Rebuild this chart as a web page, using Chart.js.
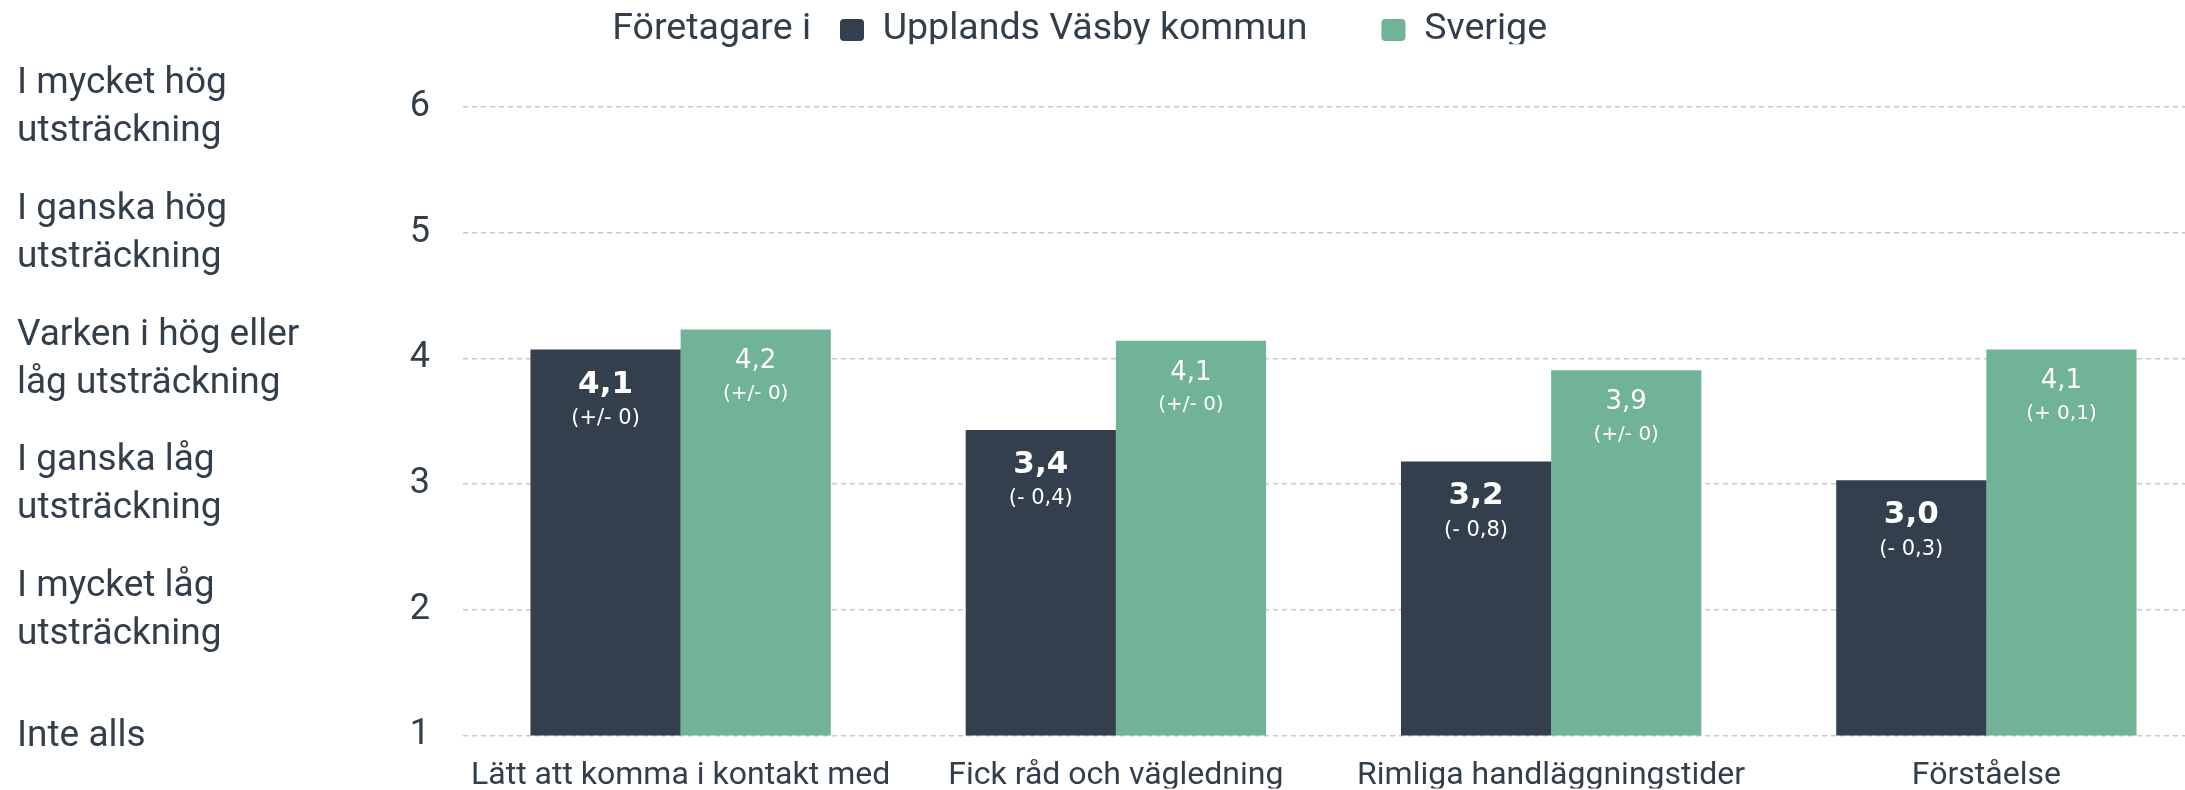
<!DOCTYPE html>
<html>
<head>
<meta charset="utf-8">
<script src="https://cdn.jsdelivr.net/npm/chart.js@4/dist/chart.umd.min.js"></script>
<style>
  html, body { margin: 0; padding: 0; background: #ffffff; overflow: hidden; }
  #wrap { width: 2185px; height: 790px; overflow: hidden; }
  canvas { display: block; }
</style>
</head>
<body>
<div id="wrap"><canvas id="c" width="2204" height="790"></canvas></div>
<script>
// ---- Data ----
const categories = ['Lätt att komma i kontakt med', 'Fick råd och vägledning', 'Rimliga handläggningstider', 'Förståelse'];
const seriesNames = ['Upplands Väsby kommun', 'Sverige'];
const vasbyValues = [4.07, 3.43, 3.18, 3.03];
const sverigeValues = [4.23, 4.14, 3.905, 4.07];
const vasbyChanges = ['(+/- 0)', '(- 0,4)', '(- 0,8)', '(- 0,3)'];
const sverigeChanges = ['(+/- 0)', '(+/- 0)', '(+/- 0)', '(+ 0,1)'];
const scaleLabels = [
  ['Inte alls'],
  ['I mycket låg', 'utsträckning'],
  ['I ganska låg', 'utsträckning'],
  ['Varken i hög eller', 'låg utsträckning'],
  ['I ganska hög', 'utsträckning'],
  ['I mycket hög', 'utsträckning']
];
const legendPrefix = 'Företagare i';
const yMin = 1, yMax = 6;

// ---- Styles ----
const TEXT = '#333e4b';
const DARK = '#333f4d';
const GREEN = '#70b396';
const FONT = 'Roboto';
const LABEL_FONT = '"DejaVu Sans"';
const changesByDataset = [vasbyChanges, sverigeChanges];
const labelStyle = [
  { valueFont: '700 31px ' + LABEL_FONT, valueDy: 35, changeFont: '400 21px ' + LABEL_FONT, changeDy: 69 },
  { valueFont: '400 26px ' + LABEL_FONT, valueDy: 32, changeFont: '400 20px ' + LABEL_FONT, changeDy: 64 }
];

const barLabels = {
  id: 'barLabels',
  afterDatasetsDraw(chart) {
    const ctx = chart.ctx;
    ctx.save();
    ctx.fillStyle = '#ffffff';
    ctx.textAlign = 'center';
    ctx.textBaseline = 'middle';
    chart.data.datasets.forEach((ds, di) => {
      const meta = chart.getDatasetMeta(di);
      const st = labelStyle[di];
      meta.data.forEach((bar, i) => {
        const v = ds.data[i];
        ctx.font = st.valueFont;
        ctx.fillText(v.toFixed(1).replace('.', ','), bar.x, bar.y + st.valueDy);
        ctx.font = st.changeFont;
        ctx.fillText(changesByDataset[di][i], bar.x, bar.y + st.changeDy);
      });
    });
    ctx.restore();
  }
};

const LEGEND_Y = 30;
const legendPlacement = {
  id: 'legendPlacement',
  afterLayout(chart) {
    const lg = chart.legend;
    if (!lg) return;
    const pad = lg.options.labels.padding;
    const fs = lg.options.labels.font.size;
    const w = lg.width, h = lg.height;
    lg.left = 840 - pad; lg.right = lg.left + w;
    lg.top = LEGEND_Y - pad - fs / 2; lg.bottom = lg.top + h;
  },
  afterDraw(chart) {
    const lg = chart.legend;
    if (!lg) return;
    const ctx = chart.ctx;
    const pad = lg.options.labels.padding;
    ctx.save();
    ctx.font = '400 37.5px ' + FONT;
    ctx.fillStyle = TEXT;
    ctx.textAlign = 'right';
    ctx.textBaseline = 'middle';
    ctx.fillText(legendPrefix, lg.left + pad - 29, LEGEND_Y);
    ctx.restore();
  }
};

new Chart(document.getElementById('c'), {
  type: 'bar',
  data: {
    labels: categories,
    datasets: [
      { label: seriesNames[0], data: vasbyValues, backgroundColor: DARK, borderWidth: 0, yAxisID: 'y' },
      { label: seriesNames[1], data: sverigeValues, backgroundColor: GREEN, borderWidth: 0, yAxisID: 'y' }
    ]
  },
  options: {
    responsive: false,
    devicePixelRatio: 1,
    animation: false,
    layout: { padding: { left: 17, right: 0, top: 0, bottom: 0 } },
    datasets: { bar: { categoryPercentage: 0.69, barPercentage: 1.0 } },
    plugins: {
      legend: {
        display: true,
        position: 'top',
        align: 'start',
        maxHeight: 107,
        labels: {
          color: TEXT,
          font: { family: FONT, size: 37.5 },
          boxWidth: 24,
          boxHeight: 22,
          useBorderRadius: true,
          borderRadius: 4,
          padding: 74
        }
      },
      tooltip: { enabled: false }
    },
    scales: {
      x: {
        type: 'category',
        grid: { display: false },
        border: { display: false },
        ticks: { color: TEXT, font: { family: FONT, size: 32 }, padding: 13, maxRotation: 0, autoSkip: false },
        afterFit(s) { s.height = 53; }
      },
      y: {
        type: 'linear',
        position: 'left',
        weight: 1,
        min: yMin, max: yMax,
        grid: { color: '#c9c9c9', lineWidth: 1.5, drawTicks: false },
        border: { display: false, dash: [5, 4] },
        ticks: { stepSize: 1, color: TEXT, font: { family: FONT, size: 36 }, padding: 33 },
        afterFit(s) { s.width = 53; }
      },
      yText: {
        type: 'linear',
        position: 'left',
        weight: 2,
        min: yMin, max: yMax,
        grid: { display: false, drawTicks: false },
        border: { display: false },
        ticks: {
          stepSize: 1,
          color: TEXT,
          crossAlign: 'far',
          labelOffset: 1,
          font: { family: FONT, size: 37, lineHeight: 1.3 },
          callback: (v) => scaleLabels[Math.round(v) - yMin]
        },
        afterFit(s) { s.width = 393; }
      }
    }
  },
  plugins: [barLabels, legendPlacement]
});
</script>
</body>
</html>
